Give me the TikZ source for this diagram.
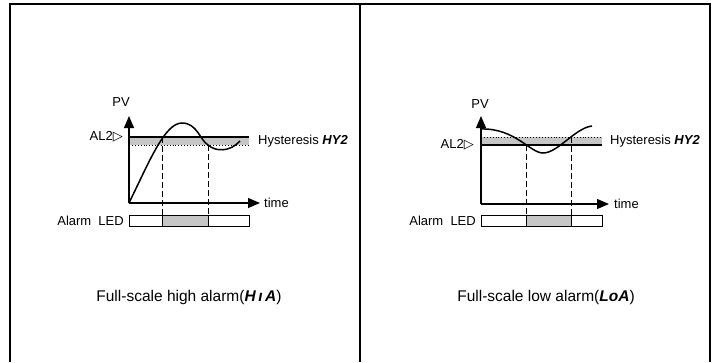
\documentclass[tikz,border=0pt]{standalone}
\usepackage{fontspec}
\setmainfont{Liberation Sans}
\newfontfamily\symfont{DejaVu Sans}
\usetikzlibrary{arrows.meta}
\newcommand{\segtxt}[1]{{\itshape\bfseries #1}}

\tikzset{
  frame/.style={line width=1.6pt},
  axis/.style={line width=1.1pt, -{Triangle[length=12pt,width=10pt]}},
  pvcurve/.style={line width=1.5pt},
  setline/.style={line width=1.6pt},
  hysline/.style={line width=0.9pt, dotted},
  guide/.style={line width=1pt, dash pattern=on 6pt off 3pt},
  ledbar/.style={draw, line width=1pt},
  lbl/.style={inner sep=0pt, font=\fontsize{13}{15}\selectfont},
  capt/.style={inner sep=0pt, font=\fontsize{15.5}{18}\selectfont}
}

\begin{document}
\begin{tikzpicture}[x=1pt, y=-1pt]
        \useasboundingbox (0,0) rectangle (718,362);

        % Frame
        \coordinate (tl) at (10,4);
        \coordinate (tm) at (360,4);
        \coordinate (tr) at (710,4);
        \draw[frame] (10,362) -- (tl) -- (tr) -- (710,362);
        \draw[frame] (tm) -- (360,362);

        % Left: high alarm
        \fill[gray!45] (129,137) rectangle (249,145);
        \fill[gray!45] (162,215) rectangle (208,226);
        \draw[ledbar] (129,215) rectangle (249,226);
        \draw[line width=1pt] (162,215) -- (162,226) (208,215) -- (208,226);
        \coordinate (o1) at (129,203);
        \coordinate (y1) at (129,116);
        \coordinate (x1) at (260,203);
        \draw[axis] (o1) -- (y1);
        \draw[axis] (o1) -- (x1);
        \draw[setline] (129,137) -- (249,137);
        \draw[hysline] (129,145) -- (249,145);
        \coordinate (a1) at (162,137);
        \coordinate (b1) at (208,145);
        \draw[guide] (a1) -- (162,215);
        \draw[guide] (b1) -- (208,215);
        \draw[pvcurve] (o1) .. controls (150,160) and (165,123) .. (182,123)
            .. controls (197,123) and (200,140) .. (b1)
            .. controls (216,152) and (230,152) .. (240,141);
        \node[lbl] (pv1) at (121,102) {PV};
        \node[lbl, anchor=east] (al1) at (123,137) {AL2{\symfont ▷}};
        \node[lbl, anchor=west] (t1) at (264,203) {time};
        \node[lbl, anchor=west] (h1) at (258,141) {Hysteresis \segtxt{HY2}};
        \node[lbl, anchor=east] (led1) at (124,221) {Alarm\ \ LED};
        \node[capt] (c1) at (189,297) {Full-scale high alarm(\segtxt{H\,ı\,A})};

        % Right: low alarm
        \fill[gray!45] (481,137) rectangle (602,145);
        \fill[gray!45] (526,215) rectangle (571,226);
        \draw[ledbar] (481,215) rectangle (602,226);
        \draw[line width=1pt] (526,215) -- (526,226) (571,215) -- (571,226);
        \coordinate (o2) at (481,204);
        \coordinate (y2) at (481,116);
        \coordinate (x2) at (609,204);
        \draw[axis] (o2) -- (y2);
        \draw[axis] (o2) -- (x2);
        \draw[setline] (481,145) -- (602,145);
        \draw[hysline] (481,137) -- (602,137);
        \coordinate (a2) at (526,145);
        \coordinate (b2) at (571,137);
        \draw[guide] (a2) -- (526,215);
        \draw[guide] (b2) -- (571,215);
        \draw[pvcurve] (481,129) .. controls (515,128) and (530,153) .. (543,153)
            .. controls (558,153) and (575,128) .. (592,126);
        \node[lbl] (pv2) at (480,104) {PV};
        \node[lbl, anchor=east] (al2) at (474,145) {AL2{\symfont ▷}};
        \node[lbl, anchor=west] (t2) at (614,204) {time};
        \node[lbl, anchor=west] (h2) at (610,141) {Hysteresis \segtxt{HY2}};
        \node[lbl, anchor=east] (led2) at (476,221) {Alarm\ \ LED};
        \node[capt] (c2) at (546,297) {Full-scale low alarm(\segtxt{LoA})};
\end{tikzpicture}
\end{document}
